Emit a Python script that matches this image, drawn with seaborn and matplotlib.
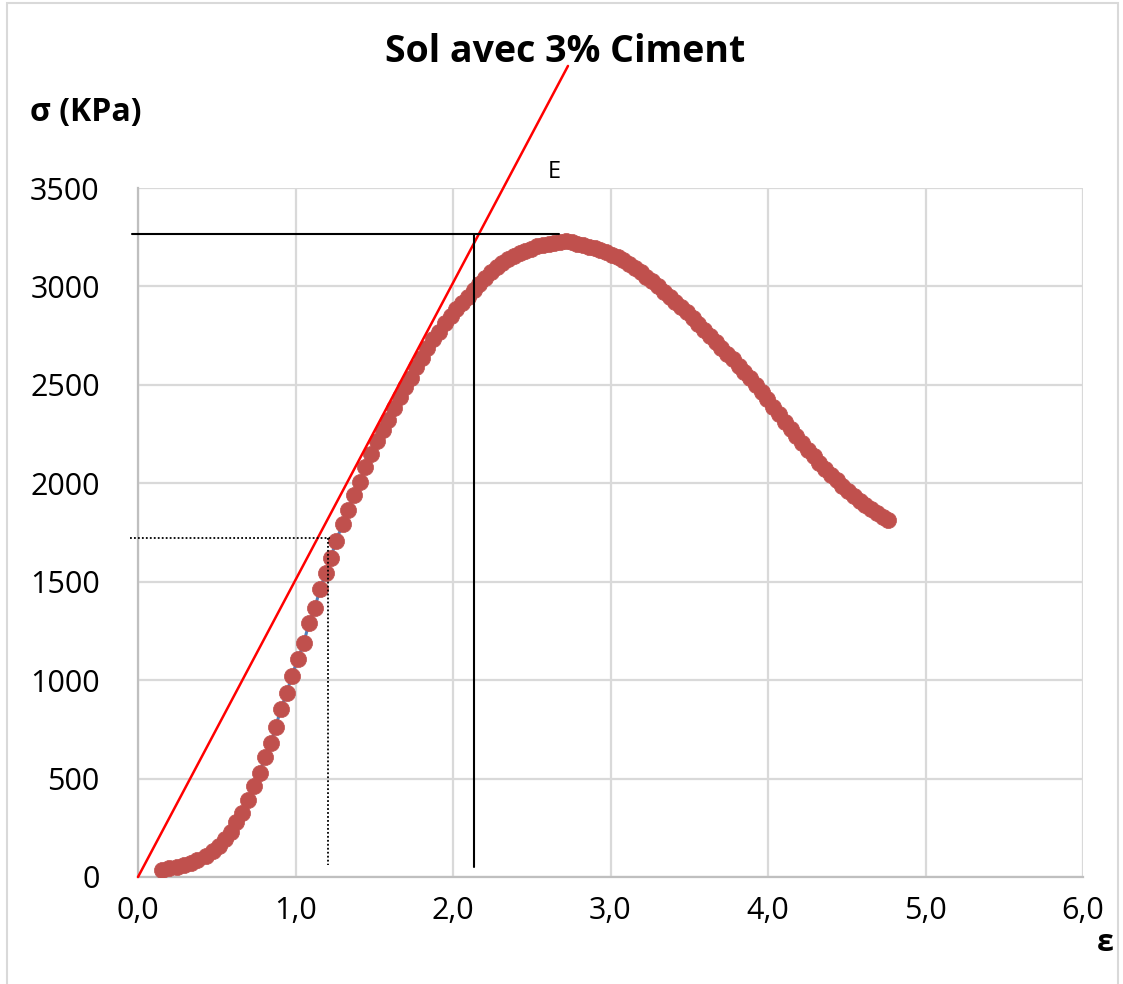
import matplotlib
matplotlib.use("Agg")
import matplotlib.pyplot as plt
import seaborn as sns
from matplotlib.patches import Rectangle

# strain (%) and stress (kPa)
strain = [0.151, 0.194, 0.245, 0.289, 0.334, 0.372, 0.429, 0.474, 0.512, 0.550,
          0.588, 0.620, 0.658, 0.697, 0.735, 0.773, 0.805, 0.843, 0.875, 0.906,
          0.945, 0.976, 1.015, 1.053, 1.085, 1.123, 1.155, 1.193, 1.225, 1.256,
          1.301, 1.333, 1.371, 1.407, 1.441, 1.481, 1.519, 1.555, 1.589, 1.625,
          1.662, 1.695, 1.732, 1.763, 1.802, 1.837, 1.873, 1.912, 1.948, 1.985,
          2.021, 2.058, 2.095, 2.131, 2.168, 2.204, 2.241, 2.277, 2.314, 2.351,
          2.387, 2.424, 2.460, 2.497, 2.534, 2.570, 2.607, 2.643, 2.680, 2.716,
          2.753, 2.790, 2.826, 2.863, 2.899, 2.936, 2.972, 3.009, 3.046, 3.082,
          3.119, 3.155, 3.192, 3.228, 3.265, 3.302, 3.338, 3.375, 3.411, 3.448,
          3.484, 3.521, 3.558, 3.594, 3.631, 3.667, 3.704, 3.740, 3.777, 3.814,
          3.850, 3.887, 3.923, 3.960, 3.996, 4.033, 4.070, 4.106, 4.143, 4.179,
          4.216, 4.252, 4.289, 4.326, 4.362, 4.399, 4.435, 4.472, 4.508, 4.545,
          4.582, 4.618, 4.655, 4.691, 4.728, 4.764]
stress = [36, 46, 51, 61, 71, 86, 107, 132, 157, 193,
          229, 279, 325, 391, 462, 528, 610, 681, 762, 853,
          935, 1021, 1107, 1189, 1290, 1366, 1463, 1544, 1620, 1707,
          1793, 1864, 1940, 2005, 2084, 2147, 2215, 2271, 2321, 2384,
          2440, 2491, 2537, 2589, 2638, 2686, 2733, 2770, 2814, 2849,
          2883, 2915, 2948, 2980, 3013, 3044, 3073, 3099, 3121, 3140,
          3155, 3169, 3182, 3192, 3203, 3210, 3217, 3223, 3228, 3230,
          3225, 3218, 3210, 3202, 3193, 3183, 3173, 3161, 3148, 3132,
          3114, 3096, 3073, 3050, 3026, 3000, 2974, 2948, 2921, 2895,
          2869, 2840, 2810, 2781, 2750, 2719, 2689, 2659, 2629, 2598,
          2566, 2533, 2499, 2463, 2426, 2388, 2350, 2312, 2275, 2239,
          2204, 2170, 2137, 2105, 2074, 2044, 2015, 1987, 1960, 1935,
          1911, 1889, 1868, 1849, 1831, 1813]

# tangent line E (modulus) and construction lines
tangent_x = [0.0, 2.73]
tangent_y = [0, 4120]
peak_h_x = [-0.035, 2.672]
peak_h_y = [3266, 3266]
peak_v_x = [2.135, 2.135]
peak_v_y = [3266, 51]
half_h_x = [-0.05, 1.222]
half_h_y = [1722, 1722]
half_v_x = [1.207, 1.207]
half_v_y = [1722, 61]

x_ticks = [0, 1, 2, 3, 4, 5, 6]
x_tick_labels = ["0,0", "1,0", "2,0", "3,0", "4,0", "5,0", "6,0"]
y_ticks = [0, 500, 1000, 1500, 2000, 2500, 3000, 3500]

sns.set_style("white")
plt.rcParams['font.family'] = ['Open Sans', 'DejaVu Sans']
plt.rcParams['text.color'] = 'black'
plt.rcParams['xtick.labelcolor'] = 'black'
plt.rcParams['ytick.labelcolor'] = 'black'

fig = plt.figure(figsize=(11.23, 9.84), dpi=100)
ax = fig.add_axes([138 / 1123, 1 - 877 / 984, 945 / 1123, 689 / 984])

grid_col = "#D9D9D9"
ax.set_xlim(0, 6)
ax.set_ylim(0, 3500)
ax.set_xticks(x_ticks)
ax.set_xticklabels(x_tick_labels)
ax.set_yticks(y_ticks)
ax.set_yticks(range(0, 3501, 100), minor=True)
ax.grid(True, which="major", color=grid_col, linewidth=1.6)
ax.set_axisbelow(True)
for s in ["top", "right"]:
    ax.spines[s].set_visible(False)
for s in ["left", "bottom"]:
    ax.spines[s].set_color("#BFBFBF")
    ax.spines[s].set_linewidth(1.6)
ax.tick_params(axis="y", which="both", length=7.5, width=1.2, color="#BFBFBF",
               labelsize=22, pad=20, direction="out", labelcolor="black")
ax.tick_params(axis="x", which="both", length=0, labelsize=22, pad=14,
               labelcolor="black")
ax.tick_params(axis="y", which="minor", labelleft=False)

# data series: blue line with red-brown circle markers
sns.lineplot(x=strain, y=stress, ax=ax, color="#4F81BD", linewidth=2.2, sort=False,
             zorder=3)
sns.scatterplot(x=strain, y=stress, ax=ax, color="#C0504D", edgecolor="#C0504D",
                s=135, linewidth=0.5, zorder=4)

ax.plot(tangent_x, tangent_y, color="#FF0000", linewidth=1.8, clip_on=False, zorder=5)
ax.plot(peak_h_x, peak_h_y, color="black", linewidth=1.5, clip_on=False, zorder=5)
ax.plot(peak_v_x, peak_v_y, color="black", linewidth=1.5, clip_on=False, zorder=5)
ax.plot(half_h_x, half_h_y, color="black", linewidth=1.3, linestyle=(0, (1, 1.2)),
        clip_on=False, zorder=5)
ax.plot(half_v_x, half_v_y, color="black", linewidth=1.3, linestyle=(0, (1, 1.2)),
        clip_on=False, zorder=5)

ax.text(2.643, 3581, "E", fontsize=17, ha="center", va="center")
ax.set_xlabel("")
ax.set_ylabel("")

fig.text(565 / 1123, 1 - 52 / 984, "Sol avec 3% Ciment", fontsize=27,
         fontweight="bold", ha="center", va="center")
fig.text(30 / 1123, 1 - 113 / 984, "σ (KPa)", fontsize=23, fontweight="bold",
         ha="left", va="center")
fig.text(1105 / 1123, 1 - 943 / 984, "ε", fontsize=22, fontweight="bold",
         ha="center", va="center")

fig.patches.append(Rectangle((7 / 1123, -0.01), 1111 / 1123, 1.01 - 3 / 984,
                             transform=fig.transFigure, fill=False,
                             edgecolor=grid_col, linewidth=1.5))

fig.savefig("out.png", dpi=100)
